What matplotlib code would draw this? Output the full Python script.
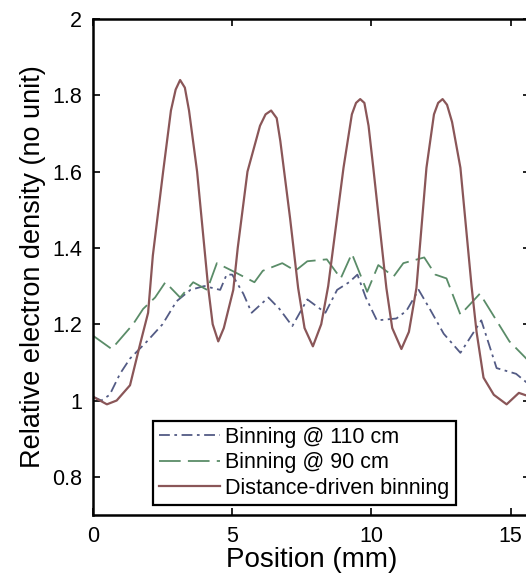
import matplotlib
matplotlib.use("Agg")
import matplotlib.pyplot as plt

plt.rcParams['font.family'] = ['Liberation Sans', 'DejaVu Sans']

# distance-driven binning (solid)
x_dd = [0.0, 0.5, 0.85, 1.33, 1.7, 1.98, 2.15, 2.52, 2.8, 2.97, 3.13, 3.3, 3.45, 3.74, 4.14, 4.3,
        4.5, 4.7, 5.04, 5.2, 5.55, 6.0, 6.2, 6.4, 6.6, 6.73, 7.08, 7.37, 7.6, 7.9, 8.2, 8.45, 9.0,
        9.3, 9.45, 9.6, 9.75, 9.9, 10.07, 10.54, 10.75, 11.08, 11.35, 11.62, 11.98, 12.25, 12.4,
        12.56, 12.72, 12.9, 13.2, 13.6, 13.78, 14.03, 14.4, 14.86, 15.3, 15.7]
y_dd = [1.01, 0.99, 1.0, 1.04, 1.15, 1.23, 1.38, 1.6, 1.76, 1.815, 1.84, 1.82, 1.76, 1.6, 1.295, 1.2,
        1.155, 1.19, 1.29, 1.4, 1.6, 1.72, 1.75, 1.76, 1.74, 1.68, 1.478, 1.295, 1.19, 1.142, 1.2, 1.3, 1.61,
        1.75, 1.78, 1.79, 1.78, 1.72, 1.61, 1.295, 1.19, 1.135, 1.18, 1.295, 1.61, 1.75, 1.78,
        1.79, 1.775, 1.73, 1.61, 1.3, 1.18, 1.06, 1.015, 0.99, 1.02, 1.01]

# binning @ 110 cm (dash-dot)
x_110 = [0.0, 0.3, 0.6, 0.97, 1.33, 1.94, 2.5, 3.0, 3.5, 4.0, 4.57, 4.8, 5.0, 5.4, 5.7, 6.3, 6.7,
         7.16, 7.7, 8.35, 8.77, 9.2, 9.5, 9.8, 10.2, 10.9, 11.26, 11.7, 12.1, 12.6, 13.2, 13.95,
         14.5, 15.2, 15.7]
y_110 = [1.01, 1.0, 1.015, 1.07, 1.11, 1.155, 1.2, 1.26, 1.29, 1.30, 1.29, 1.33, 1.33, 1.28, 1.23,
         1.27, 1.24, 1.195, 1.265, 1.23, 1.29, 1.31, 1.33, 1.27, 1.21, 1.215, 1.235, 1.29, 1.24,
         1.175, 1.125, 1.21, 1.085, 1.07, 1.04]

# binning @ 90 cm (dashed)
x_90 = [0.0, 0.67, 1.44, 1.8, 2.23, 2.6, 3.13, 3.6, 4.1, 4.45, 5.0, 5.8, 6.1, 6.8, 7.27, 7.7, 8.4,
        8.9, 9.3, 9.85, 10.25, 10.8, 11.15, 11.9, 12.3, 12.7, 13.2, 13.9, 14.96, 15.7]
y_90 = [1.17, 1.135, 1.2, 1.24, 1.27, 1.31, 1.27, 1.31, 1.29, 1.36, 1.34, 1.31, 1.34, 1.36, 1.34,
        1.365, 1.37, 1.32, 1.385, 1.285, 1.355, 1.325, 1.36, 1.375, 1.33, 1.32, 1.225, 1.28, 1.155, 1.10]

fig = plt.figure(figsize=(5.26, 5.80), dpi=100)
ax = fig.add_axes([0.1768, 0.1121, 0.8308, 0.8552])

ax.plot(x_110, y_110, color='#535b85', lw=1.3, dashes=(6, 2.5, 1.5, 2.5), label='Binning @ 110 cm')
ax.plot(x_90, y_90, color='#5a8c68', lw=1.3, dashes=(12, 4), label='Binning @ 90 cm')
ax.plot(x_dd, y_dd, color='#8a5658', lw=1.6, label='Distance-driven binning')

ax.set_xlim(0, 15.7)
ax.set_ylim(0.7, 2.0)
ax.set_xticks([0, 5, 10, 15])
ax.set_yticks([0.8, 1, 1.2, 1.4, 1.6, 1.8, 2])
ax.set_yticklabels(['0.8', '1', '1.2', '1.4', '1.6', '1.8', '2'])
ax.tick_params(direction='in', top=True, right=True, length=5, width=1.2, labelsize=15.5, pad=8)
for s in ax.spines.values():
    s.set_linewidth(1.8)

ax.set_xlabel('Position (mm)', fontsize=20, labelpad=0)
ax.set_ylabel('Relative electron density (no unit)', fontsize=19.5, labelpad=4)

leg = ax.legend(loc='lower left', bbox_to_anchor=(0.137, 0.02), borderaxespad=0, fontsize=15.5,
                fancybox=False, framealpha=1, edgecolor='black', handlelength=2.8,
                handletextpad=0.25, labelspacing=0.2, borderpad=0.3)
leg.get_frame().set_linewidth(1.6)

fig.savefig('out.png', dpi=100)
